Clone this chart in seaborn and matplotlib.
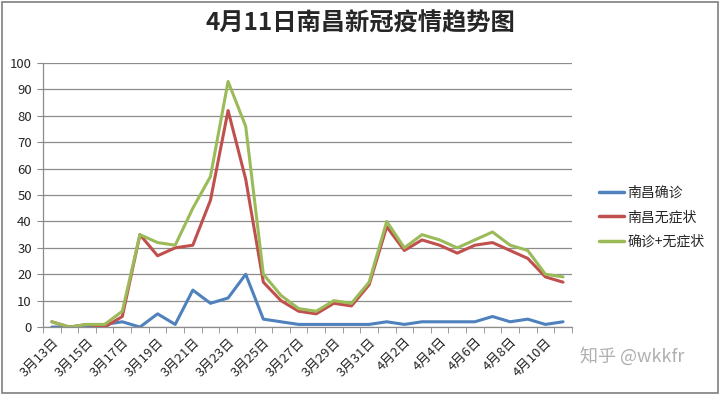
import pandas as pd
import numpy as np
import matplotlib
matplotlib.use("Agg")
import matplotlib.pyplot as plt
import seaborn as sns

# data (3/13 - 4/11)
dates = ["3月%d日" % d for d in range(13, 32)] + ["4月%d日" % d for d in range(1, 12)]
confirmed = [0, 0, 0, 1, 2, 0, 5, 1, 14, 9, 11, 20, 3, 2, 1, 1, 1, 1, 1, 2,
             1, 2, 2, 2, 2, 4, 2, 3, 1, 2]
asymptomatic = [2, 0, 1, 0, 4, 35, 27, 30, 31, 48, 82, 56, 17, 10, 6, 5, 9, 8, 16, 38,
                29, 33, 31, 28, 31, 32, 29, 26, 19, 17]
total = [2, 0, 1, 1, 6, 35, 32, 31, 45, 57, 93, 76, 20, 12, 7, 6, 10, 9, 17, 40,
         30, 35, 33, 30, 33, 36, 31, 29, 20, 19]
series_names = ["南昌确诊", "南昌无症状", "确诊+无症状"]
colors = ["#4F81BD", "#C0504D", "#9BBB59"]

df = pd.DataFrame({"date": dates, series_names[0]: confirmed,
                   series_names[1]: asymptomatic, series_names[2]: total})
df["idx"] = np.arange(len(df))
long = df.melt(id_vars=["date", "idx"], var_name="series", value_name="value")

sns.set_style("white")
plt.rcParams["font.family"] = ["Noto Sans CJK SC", "DejaVu Sans"]

fig = plt.figure(figsize=(7.2, 3.95), dpi=100)
ax = fig.add_axes([0.0597, 0.172, 0.7345, 0.6685])

sns.lineplot(data=long, x="idx", y="value", hue="series", hue_order=series_names,
             palette=colors, linewidth=2.2, ax=ax, legend=False)

ax.set_xlim(-0.5, len(dates) - 0.5)
ax.set_ylim(0, 100)
ax.set_yticks(range(0, 101, 10))
ax.yaxis.grid(True, color="#8c8c8c", linewidth=0.9)
ax.set_axisbelow(True)
ax.tick_params(axis="y", labelsize=9.5, length=4, color="#8c8c8c", left=True, pad=4)
ax.set_xticks(range(0, len(dates), 2))
ax.set_xticklabels(dates[::2], rotation=45, ha="right", rotation_mode="anchor",
                   fontsize=9.5)
ax.tick_params(axis="x", length=0, pad=6)
ax.set_xticks(np.arange(-0.5, len(dates), 1), minor=True)
ax.tick_params(axis="x", which="minor", length=4, color="#8c8c8c", bottom=True)
ax.set_xlabel("")
ax.set_ylabel("")
for s in ["top", "right"]:
    ax.spines[s].set_visible(False)
for s in ["left", "bottom"]:
    ax.spines[s].set_color("#8c8c8c")
    ax.spines[s].set_linewidth(0.9)

# legend on the right
handles = [plt.Line2D([], [], color=c, linewidth=2.5) for c in colors]
fig.legend(handles, series_names, loc="center left", bbox_to_anchor=(0.815, 0.45),
           frameon=False, fontsize=10, handlelength=1.8, handletextpad=0.2,
           labelspacing=0.75)

fig.suptitle("4月11日南昌新冠疫情趋势图", x=0.5, y=0.97, fontsize=17.5,
             fontweight="bold")
fig.text(0.805, 0.085, "知乎 @wkkfr", fontsize=13, color="#b0b0b0")

# chart area border
fig.patches.append(plt.Rectangle((0.003, 0.004), 0.994, 0.992, transform=fig.transFigure,
                                 fill=False, edgecolor="#7f7f7f", linewidth=1.2))

fig.savefig("out.png", dpi=100)
